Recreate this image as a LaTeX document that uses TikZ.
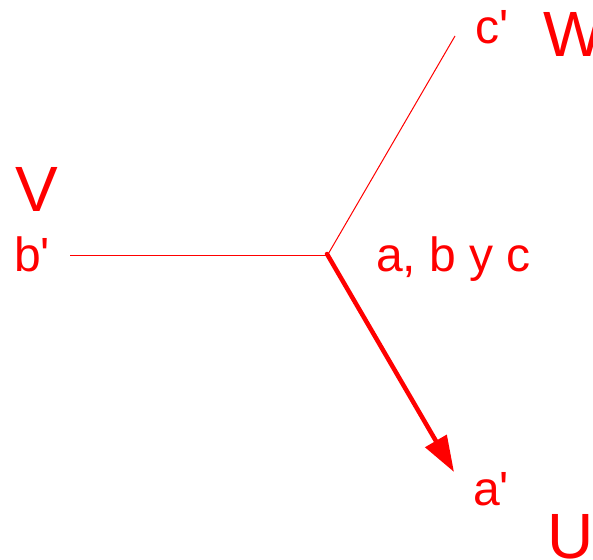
\documentclass[tikz,border=0pt]{standalone}
\usepackage{fontspec}
\setmainfont{Liberation Sans}
\usepackage{xcolor}
\usetikzlibrary{arrows.meta, positioning}

\begin{document}
\begin{tikzpicture}[
    x=1pt, y=1pt,
    lbl/.style={text=red, inner sep=0pt, anchor=base west, font=\fontsize{48}{52}\selectfont},
    phase/.style={text=red, inner sep=0pt, anchor=base west, font=\fontsize{64}{70}\selectfont},
    thinline/.style={draw=red, line width=1pt},
    arrow/.style={draw=red, line width=4.5pt, line cap=round, -{Triangle[length=36pt, width=24pt]}}
]
\useasboundingbox (0,0) rectangle (593,559);

% Star point and ends
\coordinate (n) at (327,303);
\coordinate (s) at (327,305);
\coordinate (bp) at (70,303);
\coordinate (cp) at (455,523);
\coordinate (ap) at (454,87);

\draw[thinline] (n) -- (bp);
\draw[thinline] (n) -- (cp);
\draw[arrow] (s) -- (ap);

% Labels
\node[lbl] (cl) at (475,515) {c\textquotesingle};
\node[phase] (w) at (543,502) {W};
\node[phase] (v) at (15,347) {V};
\node[lbl] (bl) at (14,287) {b\textquotesingle};
\node[lbl] (abc) at (376,287) {a, b y c};
\node[lbl] (al) at (473,54) {a\textquotesingle};
\node[phase] (u) at (547,1) {U};

\end{tikzpicture}
\end{document}
